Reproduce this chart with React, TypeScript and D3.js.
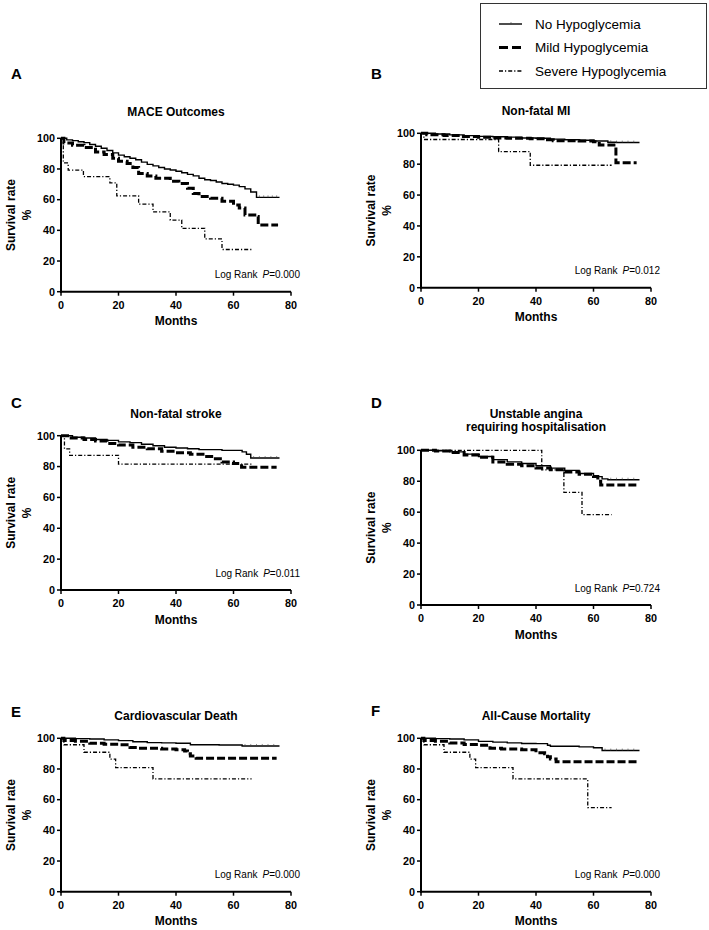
import React from "react";
import * as d3 from "d3";

// Kaplan-Meier curves: [month, survival %]
const maceNo = [[0,100],[2,99],[4,98.5],[6,97.8],[8,97.2],[10,96],[12,94.8],[14,93.5],[16,92],[18,90.5],[20,89],[22,88],[24,87],[26,86],[28,84.5],[30,83],[32,82],[34,81],[36,80],[38,79.3],[40,78.5],[42,77.5],[44,76.5],[46,75.5],[48,74],[50,73],[52,72.5],[54,71.5],[56,70.5],[58,70],[60,69.5],[62,68.5],[64,67],[66,65],[68,61.5],[76,61.5]];
const maceMild = [[0,100],[1,97],[4,95.5],[8,94],[12,91],[15,89.5],[18,87],[20,85],[23,83.5],[25,81],[27,77],[30,75.5],[33,74],[38,72],[41,70.5],[44,67.5],[46,64],[48,62],[52,61],[56,59],[60,56.5],[62,54.5],[64,50],[68.3,49],[68.6,43.5],[75.5,43.5]];
const maceSevere = [[0,100],[0.8,84],[2.5,79.3],[7.8,75],[17,71],[19.4,62.5],[27,57.1],[32,52.1],[38,46.7],[42,41.3],[50,34.4],[56,27.5],[66.3,27.5]];

const miNo = [[0,100],[5,99.5],[10,99],[15,98.5],[20,98],[25,97.8],[30,97.5],[35,97],[40,96.8],[45,96.2],[50,95.8],[55,95.5],[60,95],[65,94.2],[68,94],[76,94]];
const miMild = [[0,100],[2,99],[8,98.5],[14,98],[20,97.5],[25,97],[30,96.8],[38,96.5],[44,95.8],[46,95.2],[55,95],[60,94.5],[62,92.5],[67.8,81],[75,81]];
const miSevere = [[0,100],[1,96],[27,88.1],[38,79.3],[66.3,79.3]];

const strokeNo = [[0,100],[4,99],[8,98.5],[12,97.5],[16,97],[20,96],[24,95.5],[28,94.5],[32,93.5],[36,92.5],[40,92],[44,91.5],[48,91],[56,90.5],[63,89.5],[64.5,88],[66,85.5],[76,85.5]];
const strokeMild = [[0,100],[3,98.5],[8,97.5],[12,96.5],[16,95],[20,94],[25,92.5],[30,91.5],[35,90],[40,89],[45,88],[50,86.5],[53,85],[56,83],[60,82],[62.8,79.5],[75,79.5]];
const strokeSevere = [[0,100],[1.2,91.5],[3,87.3],[20,81.6],[66.3,81.6]];

const anginaNo = [[0,100],[5,99.7],[10,99],[15,97.5],[20,96],[25,94],[30,92.5],[35,91.5],[40,90],[45,88.5],[50,87],[55,85],[60,83],[63,81.5],[65,81],[76,81]];
const anginaMild = [[0,100],[5,99.5],[10,98.5],[15,97],[20,95.5],[25,92.5],[30,91],[35,90],[40,88.5],[45,87.5],[50,86],[55,84.5],[60,83],[61.5,80],[62.5,77.6],[75,77.6]];
const anginaSevere = [[0,100],[42,87.3],[49.7,72.8],[56,58.4],[66.3,58.4]];

const cvdNo = [[0,100],[5,99.8],[10,99.5],[15,99],[20,98.5],[25,97.8],[30,97.2],[35,97],[40,96.8],[45,95.8],[55,95.6],[63,95],[76,95]];
const cvdMild = [[0,100],[1,98.5],[5,98],[10,96.7],[15,96.2],[20,95.8],[24,94],[27,93.5],[35,93],[40,92.5],[43,91.7],[44,90],[45,88.5],[47,87],[75,87]];
const cvdSevere = [[0,100],[1,95.8],[8,90.9],[17,86.4],[19,80.9],[32,73.5],[66.3,73.5]];

const allNo = [[0,100],[5,99.8],[10,99.5],[15,99],[20,98],[25,97.5],[30,97],[35,96.6],[40,96.5],[44,95.5],[45,94.8],[55,94.4],[60,93.8],[63,92],[76,92]];
const allMild = [[0,100],[1,98.5],[5,98],[10,97],[15,96],[20,95.5],[24,93.5],[28,93],[35,92.5],[40,90.5],[43,90],[44,88],[45,86.5],[47,84.7],[75,84.7]];
const allSevere = [[0,100],[1,95.8],[8,90.9],[17,86.4],[19,80.9],[32,73.5],[58,54.8],[66.3,54.8]];

// censored observations on the no-hypoglycemia curve (tick marks)
const maceCensor = [69, 70.5, 72, 73.5, 75];
const miCensor = [66, 68, 70, 72, 74];
const strokeCensor = [67, 69, 71, 73, 75];
const anginaCensor = [66, 68, 70, 72, 74];
const cvdCensor = [64, 66, 68, 70, 72, 74];
const allCensor = [64, 66, 68, 70, 72, 74];

const panelLetters = ["A", "B", "C", "D", "E", "F"];
const panelTitles = [
  ["MACE Outcomes"],
  ["Non-fatal MI"],
  ["Non-fatal stroke"],
  ["Unstable angina", "requiring hospitalisation"],
  ["Cardiovascular Death"],
  ["All-Cause Mortality"],
];
const pValues = ["0.000", "0.012", "0.011", "0.724", "0.000", "0.000"];
const seriesNames = ["No Hypoglycemia", "Mild Hypoglycemia", "Severe Hypoglycemia"];
const xTicks = [0, 20, 40, 60, 80];
const yTicks = [0, 20, 40, 60, 80, 100];

const curves = [
  [maceNo, maceMild, maceSevere],
  [miNo, miMild, miSevere],
  [strokeNo, strokeMild, strokeSevere],
  [anginaNo, anginaMild, anginaSevere],
  [cvdNo, cvdMild, cvdSevere],
  [allNo, allMild, allSevere],
];
const censors = [maceCensor, miCensor, strokeCensor, anginaCensor, cvdCensor, allCensor];

const FONT = '"Liberation Sans", Arial, Helvetica, sans-serif';

// panel placement on the page
const layout = [
  { x0: 0, top: 138.3, bottom: 291.7, titleY: 116, letterY: 79 },
  { x0: 360, top: 133.3, bottom: 287.7, titleY: 115, letterY: 79 },
  { x0: 0, top: 435.7, bottom: 590, titleY: 418, letterY: 408 },
  { x0: 360, top: 450.3, bottom: 605, titleY: 418, letterY: 408 },
  { x0: 0, top: 738.3, bottom: 891.7, titleY: 720, letterY: 716.5 },
  { x0: 360, top: 738.3, bottom: 891.7, titleY: 720, letterY: 716 },
];

// line styles: no / mild / severe
const styles = [
  { width: 1.4, dash: "none" },
  { width: 3, dash: "8,3" },
  { width: 1.3, dash: "4,2,1.2,2" },
];

function Panel({ i }: { i: number }) {
  const L = layout[i];
  const left = L.x0 + 61;
  const right = L.x0 + 291;
  const x = d3.scaleLinear().domain([0, 80]).range([left, right]);
  const y = d3.scaleLinear().domain([0, 100]).range([L.bottom, L.top]);
  const line = d3
    .line<number[]>()
    .x((d) => x(d[0]))
    .y((d) => y(d[1]))
    .curve(d3.curveStepAfter);

  const noCurve = curves[i][0];
  // survival of the no-hypoglycemia group at a given month
  const survAt = (t: number) => {
    let v = noCurve[0][1];
    for (const p of noCurve) if (p[0] <= t) v = p[1];
    return v;
  };

  const midY = (L.top + L.bottom) / 2;
  const titles = panelTitles[i];

  return (
    <g>
      <text x={L.x0 + 11} y={L.letterY} fontFamily={FONT} fontWeight="bold" fontSize={15}>
        {panelLetters[i]}
      </text>
      {titles.map((t, k) => (
        <text
          key={k}
          x={(left + right) / 2}
          y={L.titleY + k * 13}
          textAnchor="middle"
          fontFamily={FONT}
          fontWeight="bold"
          fontSize={12}
        >
          {t}
        </text>
      ))}

      {/* curves: severe first so the others sit on top */}
      {[2, 1, 0].map((s) => (
        <path
          key={s}
          d={line(curves[i][s] as number[][]) || ""}
          fill="none"
          stroke="#000"
          strokeWidth={styles[s].width}
          strokeDasharray={styles[s].dash}
        />
      ))}
      {censors[i].map((t, k) => (
        <line
          key={k}
          x1={x(t)}
          x2={x(t)}
          y1={y(survAt(t)) - 2}
          y2={y(survAt(t))}
          stroke="#444"
          strokeWidth={0.6}
        />
      ))}

      {/* axes */}
      <line x1={left} x2={left} y1={y(0) + 1} y2={y(100)} stroke="#000" strokeWidth={2} />
      <line x1={left - 1} x2={right} y1={y(0)} y2={y(0)} stroke="#000" strokeWidth={2} />
      {yTicks.map((t) => (
        <g key={"y" + t}>
          <line x1={left - 4} x2={left} y1={y(t)} y2={y(t)} stroke="#000" strokeWidth={1.5} />
          <text
            x={left - 6}
            y={y(t) + 3.8}
            textAnchor="end"
            fontFamily={FONT}
            fontWeight="bold"
            fontSize={10.8}
          >
            {t}
          </text>
        </g>
      ))}
      {xTicks.map((t) => (
        <g key={"x" + t}>
          <line x1={x(t)} x2={x(t)} y1={y(0)} y2={y(0) + 4} stroke="#000" strokeWidth={1.5} />
          <text
            x={x(t)}
            y={y(0) + 17}
            textAnchor="middle"
            fontFamily={FONT}
            fontWeight="bold"
            fontSize={10.8}
          >
            {t}
          </text>
        </g>
      ))}
      <text
        x={(left + right) / 2}
        y={y(0) + 33.5}
        textAnchor="middle"
        fontFamily={FONT}
        fontWeight="bold"
        fontSize={12}
      >
        Months
      </text>
      <text
        transform={`translate(${L.x0 + 15},${midY}) rotate(-90)`}
        textAnchor="middle"
        fontFamily={FONT}
        fontWeight="bold"
        fontSize={12}
      >
        Survival rate
      </text>
      <text
        transform={`translate(${L.x0 + 30.5},${midY}) rotate(-90)`}
        textAnchor="middle"
        fontFamily={FONT}
        fontWeight="bold"
        fontSize={12}
      >
        %
      </text>
      <text
        x={L.x0 + 300}
        y={y(0) - 13.5}
        textAnchor="end"
        fontFamily={FONT}
        fontSize={10}
      >
        Log Rank
        <tspan dx={5} fontStyle="italic">P</tspan>
        <tspan>={pValues[i]}</tspan>
      </text>
    </g>
  );
}

function Legend() {
  const rows = d3.scalePoint<string>().domain(seriesNames).range([24, 71]);
  return (
    <g>
      <rect x={480.5} y={3.5} width={226} height={85} fill="#fff" stroke="#333" strokeWidth={1} />
      {seriesNames.map((n, s) => {
        const ry = rows(n) as number;
        return (
          <g key={n}>
            <line
              x1={499}
              x2={522}
              y1={ry}
              y2={ry}
              stroke="#000"
              strokeWidth={styles[s].width}
              strokeDasharray={s === 1 ? "9,4" : styles[s].dash}
            />
            {s === 0 && <line x1={511} x2={511} y1={ry - 2} y2={ry} stroke="#444" strokeWidth={0.6} />}
            <text x={535} y={ry + 4.8} fontFamily={FONT} fontSize={13.5}>
              {n}
            </text>
          </g>
        );
      })}
    </g>
  );
}

export default function App() {
  return (
    <svg
      width={709}
      height={930}
      viewBox="0 0 709 930"
      style={{ position: "absolute", left: 0, top: 0, background: "#fff" }}
    >
      <rect width={709} height={930} fill="#fff" />
      <Legend />
      {layout.map((_, i) => (
        <Panel key={i} i={i} />
      ))}
    </svg>
  );
}
